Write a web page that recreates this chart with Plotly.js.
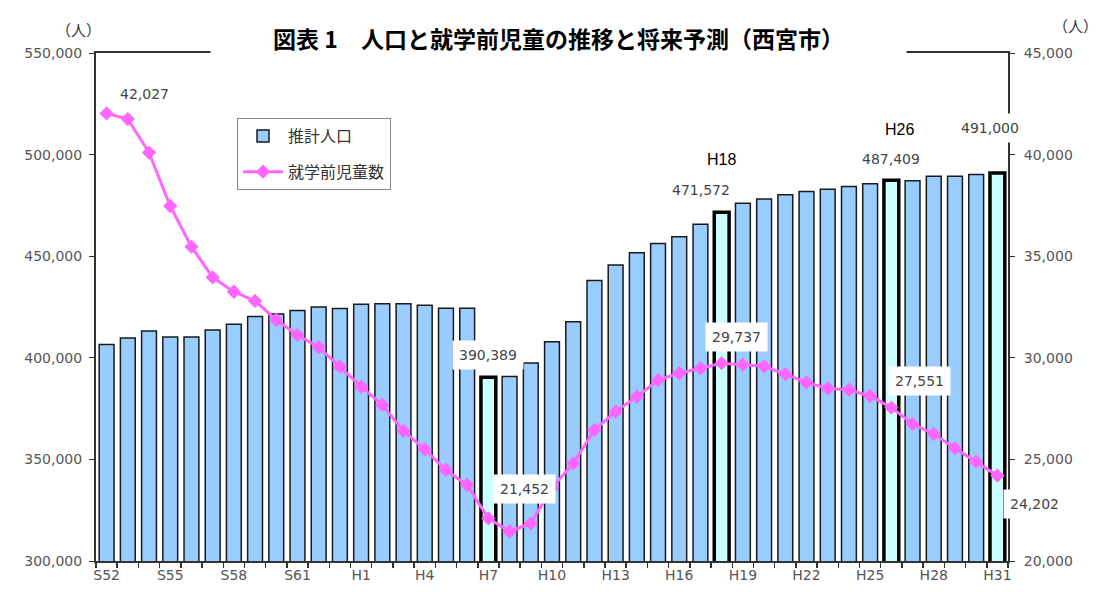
<!DOCTYPE html>
<html>
<head>
<meta charset="utf-8">
<script src="https://cdn.plot.ly/plotly-3.0.1.min.js"></script>
<style>html,body{margin:0;padding:0;background:#fff;}#chart{width:1102px;height:592px;}</style>
</head>
<body>
<div id="chart"></div>
<script>
const years = ['S52','S53','S54','S55','S56','S57','S58','S59','S60','S61','S62','S63',
  'H1','H2','H3','H4','H5','H6','H7','H8','H9','H10','H11','H12','H13','H14','H15','H16','H17','H18',
  'H19','H20','H21','H22','H23','H24','H25','H26','H27','H28','H29','H30','H31'];
const tickLabels = ['S52','S55','S58','S61','H1','H4','H7','H10','H13','H16','H19','H22','H25','H28','H31'];
const population = [406600,409700,413200,410200,410200,413700,416500,420300,421500,423300,425000,424300,
  426300,426600,426600,425900,424400,424400,390389,390800,397500,407900,417800,438100,445700,451700,456300,459600,465700,471572,
  476000,478100,480200,481900,482900,484300,485700,487409,487100,489400,489400,490200,491000];
const preschool = [42027,41750,40100,37470,35470,33960,33250,32800,31860,31120,30520,29560,
  28580,27680,26400,25500,24480,23740,22100,21452,21850,23600,24800,26450,27350,28090,28900,29240,29480,29737,
  29660,29580,29200,28780,28500,28420,28120,27551,26740,26250,25550,24890,24202];
const highlightYears = ['H7','H18','H26','H31'];
const popName = '推計人口';
const kidsName = '就学前児童数';
const titleText = '図表 1　人口と就学前児童の推移と将来予測（西宮市）';

const fmt = v => v.toLocaleString('en-US');
const idx = y => years.indexOf(y);
const isHi = years.map(y => highlightYears.includes(y));

const barTrace = {
  type: 'bar', x: years, y: population, name: popName,
  legendgroup: 'a',
  marker: {
    color: isHi.map(h => h ? '#ccffff' : '#99ccff'),
    line: { color: isHi.map(h => h ? '#000000' : '#1a1a1a'), width: isHi.map(h => h ? 3.5 : 1.5) }
  },
  hoverinfo: 'skip'
};
const lineTrace = {
  type: 'scatter', mode: 'lines+markers', x: years, y: preschool, yaxis: 'y2', name: kidsName,
  legendgroup: 'b',
  line: { color: '#ff66ff', width: 3 },
  marker: { symbol: 'diamond', size: 11, color: '#ff66ff' },
  hoverinfo: 'skip', cliponaxis: false
};

const labFont = { family: 'DejaVu Sans', size: 14, color: '#444' };
function lab(text, x, y, yref, xs, ys, bg, font) {
  return { text: text, x: x, y: y, xref: 'x', yref: yref, xshift: xs, yshift: ys,
    xanchor: 'center', yanchor: 'middle',
    showarrow: false, font: font || labFont, bgcolor: bg ? '#ffffff' : 'rgba(0,0,0,0)', borderpad: bg ? 6 : 0 };
}
const boldFont = { family: 'Liberation Sans, Arial', size: 16, color: '#000' };

const annotations = [
  { text: titleText, xref: 'paper', yref: 'paper', x: 0.507, y: 1.0295, xanchor: 'center', yanchor: 'middle',
    showarrow: false, width: 693, height: 36, bgcolor: '#ffffff',
    font: { family: 'Noto Sans CJK JP', size: 23, color: '#000', weight: 'bold' } },
  { text: '（人）', xref: 'paper', yref: 'paper', x: (78-96)/912, y: (561-29)/508, xanchor: 'center', yanchor: 'middle',
    showarrow: false, font: { family: 'Noto Sans CJK JP', size: 15, color: '#333' } },
  { text: '（人）', xref: 'paper', yref: 'paper', x: (1075-96)/912, y: (561-25)/508, xanchor: 'center', yanchor: 'middle',
    showarrow: false, font: { family: 'Noto Sans CJK JP', size: 15, color: '#333' } },
  lab(fmt(preschool[0]), years[0], preschool[0], 'y2', 38, 19, false),
  lab(fmt(population[idx('H7')]), 'H7', population[idx('H7')], 'y', 0, 22, true),
  lab(fmt(preschool[idx('H8')]), 'H8', preschool[idx('H8')], 'y2', 15, 43, true),
  lab(fmt(preschool[idx('H18')]), 'H18', preschool[idx('H18')], 'y2', 15, 26, true),
  lab(fmt(population[idx('H18')]), 'H18', population[idx('H18')], 'y', -21, 22, false),
  lab('H18', 'H18', population[idx('H18')], 'y', 0, 53, false, boldFont),
  lab(fmt(preschool[idx('H26')]), 'H26', preschool[idx('H26')], 'y2', 28, 27, true),
  lab(fmt(population[idx('H26')]), 'H26', population[idx('H26')], 'y', 0, 21, false),
  lab('H26', 'H26', population[idx('H26')], 'y', 8, 51, false, boldFont),
  lab(fmt(population[idx('H31')]), 'H31', population[idx('H31')], 'y', -7, 45, true),
  lab(fmt(preschool[idx('H31')]), 'H31', preschool[idx('H31')], 'y2', 37, -28, true)
];

const tickFont = { family: 'DejaVu Sans', size: 14, color: '#555' };
const layout = {
  width: 1102, height: 592,
  margin: { l: 96, r: 94, t: 53, b: 31 },
  paper_bgcolor: '#ffffff', plot_bgcolor: '#ffffff',
  bargap: 0.3,
  showlegend: true,
  legend: { x: (237-96)/912, y: (561-118)/508, xanchor: 'left', yanchor: 'top',
    bgcolor: '#ffffff', bordercolor: '#888', borderwidth: 1,
    font: { family: 'Noto Sans CJK JP', size: 16, color: '#333' },
    traceorder: 'grouped', tracegroupgap: 12, itemwidth: 40 },
  xaxis: {
    type: 'category', range: [-0.5, years.length - 0.5], autorange: false,
    tickvals: years, ticktext: years.map(y => tickLabels.includes(y) ? y : ''),
    tickson: 'boundaries', ticks: 'outside', ticklen: 5, tickcolor: '#333', tickwidth: 1.5,
    showline: true, linecolor: '#333', linewidth: 2, mirror: true,
    showgrid: false, zeroline: false, tickfont: tickFont, tickangle: 0, fixedrange: true
  },
  yaxis: {
    range: [300000, 550000], autorange: false, dtick: 50000, tick0: 300000, tickformat: ',d',
    ticks: 'outside', ticklen: 5, tickcolor: '#333', ticklabelstandoff: 4,
    showline: true, linecolor: '#333', linewidth: 2,
    showgrid: false, zeroline: false, tickfont: tickFont, fixedrange: true
  },
  yaxis2: {
    overlaying: 'y', side: 'right',
    range: [20000, 45000], autorange: false, dtick: 5000, tick0: 20000, tickformat: ',d',
    ticks: 'outside', ticklen: 5, tickcolor: '#333', ticklabelstandoff: 6,
    showline: true, linecolor: '#333', linewidth: 2,
    showgrid: false, zeroline: false, tickfont: tickFont, fixedrange: true
  },
  annotations: annotations
};

Plotly.newPlot('chart', [barTrace, lineTrace], layout, { staticPlot: true, displayModeBar: false });
</script>
</body>
</html>
